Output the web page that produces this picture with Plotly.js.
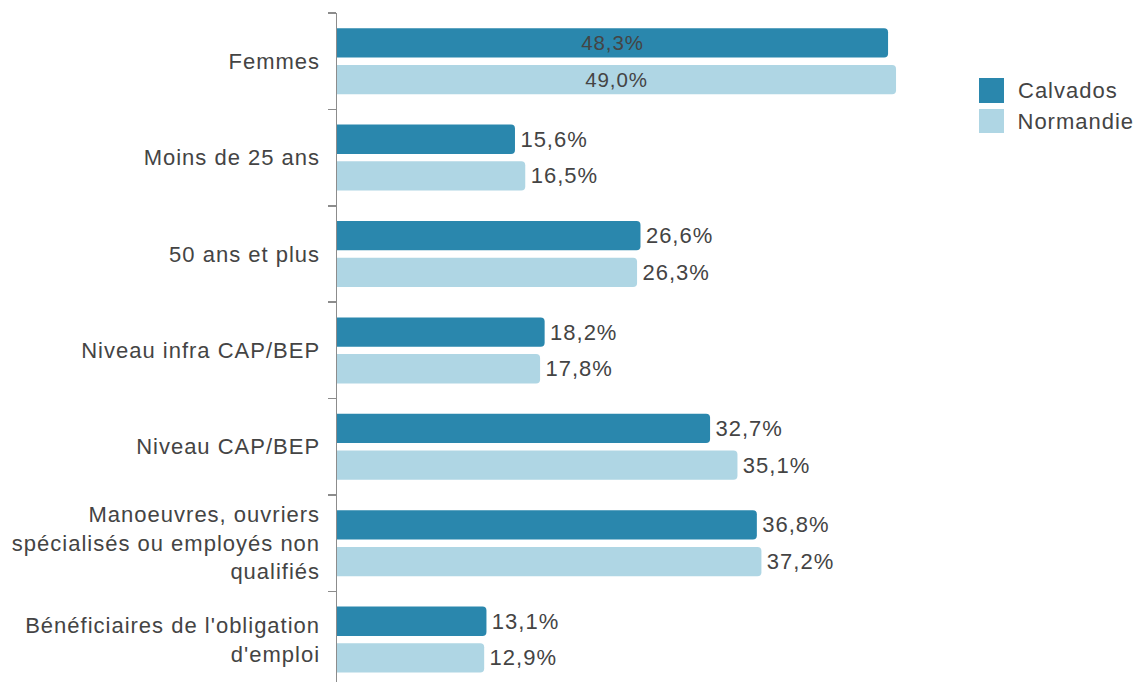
<!DOCTYPE html>
<html>
<head>
<meta charset="utf-8">
<script src="https://cdn.plot.ly/plotly-3.0.1.min.js"></script>
<style>
html,body{margin:0;padding:0;background:#fff;}
#chart text{letter-spacing:1px;}
</style>
</head>
<body>
<div id="chart" style="width:1141px;height:682px;"></div>
<script>
const categories = [
  "Femmes",
  "Moins de 25 ans",
  "50 ans et plus",
  "Niveau infra CAP/BEP",
  "Niveau CAP/BEP",
  "Manoeuvres, ouvriers<br>spécialisés ou employés non<br>qualifiés",
  "Bénéficiaires de l'obligation<br>d'emploi"
];
const seriesNames = ["Calvados", "Normandie"];
const calvados = [48.3, 15.6, 26.6, 18.2, 32.7, 36.8, 13.1];
const normandie = [49.0, 16.5, 26.3, 17.8, 35.1, 37.2, 12.9];
const colors = ["#2a87ad", "#afd6e4"];

const fmt = v => v.toFixed(1).replace('.', ',') + '%';
const pos = vals => vals.map(v => v > 45 ? 'inside' : 'outside');
const FONT = '"Liberation Sans", Arial, sans-serif';
const TXT = '#444444';

function mk(name, vals, color) {
  const p = pos(vals);
  return {
    type: 'bar', orientation: 'h', name: name,
    y: categories, x: vals,
    text: vals.map((v, i) => (p[i] === 'outside' ? '\u2009' : '') + fmt(v)),
    textposition: p,
    insidetextanchor: 'middle', constraintext: 'none', cliponaxis: false,
    textfont: {family: FONT, size: 22, color: TXT},
    insidetextfont: {family: FONT, size: 22, color: TXT},
    outsidetextfont: {family: FONT, size: 22, color: TXT},
    marker: {color: color, cornerradius: 4, line: {width: 0}},
    hoverinfo: 'skip'
  };
}

const data = [mk(seriesNames[0], calvados, colors[0]), mk(seriesNames[1], normandie, colors[1])];

const legendShapes = [
  {type: 'rect', xref: 'paper', yref: 'paper', x0: 1.07, x1: 1.1117, y0: 0.8655, y1: 0.9028, fillcolor: colors[0], line: {width: 0}},
  {type: 'rect', xref: 'paper', yref: 'paper', x0: 1.07, x1: 1.1117, y0: 0.8206, y1: 0.8565, fillcolor: colors[1], line: {width: 0}}
];
const legendAnn = [
  {xref: 'paper', yref: 'paper', x: 1.1383, y: 0.8849, xanchor: 'left', yanchor: 'middle', text: seriesNames[0], showarrow: false, font: {family: FONT, size: 22, color: TXT}},
  {xref: 'paper', yref: 'paper', x: 1.1383, y: 0.8385, xanchor: 'left', yanchor: 'middle', text: seriesNames[1], showarrow: false, font: {family: FONT, size: 22, color: TXT}}
];

const layout = {
  width: 1141, height: 682,
  margin: {l: 337, r: 204, t: 13, b: 0, pad: 0},
  paper_bgcolor: '#ffffff', plot_bgcolor: '#ffffff',
  font: {family: FONT, size: 22, color: TXT},
  barmode: 'group', bargap: 0.2386, bargroupgap: 0.2016,
  showlegend: false,
  xaxis: {range: [0, 52.59], visible: false, fixedrange: true},
  yaxis: {
    type: 'category', range: [6.44, -0.5],
    showline: true, linecolor: '#8c8c8c', linewidth: 1.5,
    ticks: 'outside', tickson: 'boundaries', ticklen: 8, tickcolor: '#8c8c8c', tickwidth: 1.5,
    showgrid: false, zeroline: false, ticklabelstandoff: 11,
    tickfont: {family: FONT, size: 22, color: TXT}, fixedrange: true
  },
  shapes: legendShapes,
  annotations: legendAnn
};

Plotly.newPlot('chart', data, layout, {staticPlot: true, displayModeBar: false});
</script>
</body>
</html>
